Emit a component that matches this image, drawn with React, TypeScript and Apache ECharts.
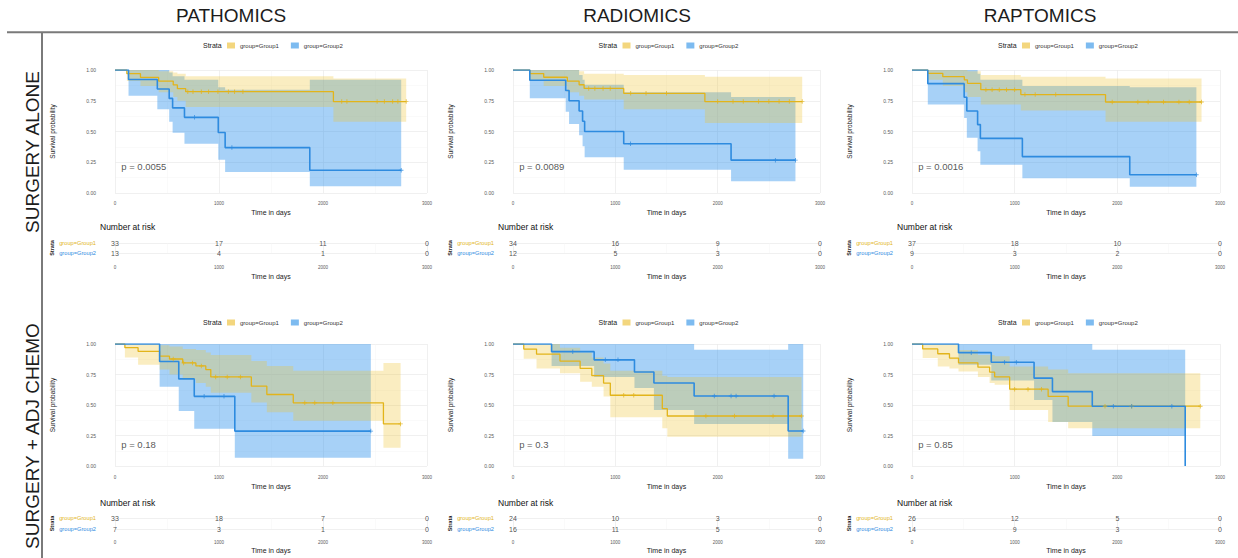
import React, { useEffect, useRef } from 'react';
import * as echarts from 'echarts';

const COLUMN_TITLES = ['PATHOMICS', 'RADIOMICS', 'RAPTOMICS'];
const ROW_TITLES = ['SURGERY ALONE', 'SURGERY + ADJ CHEMO'];
const STRATA = ['group=Group1', 'group=Group2'];
const TIME_TICKS = [0, 1000, 2000, 3000];
const P_VALUES = ['p = 0.0055', 'p = 0.0089', 'p = 0.0016', 'p = 0.18', 'p = 0.3', 'p = 0.85'];

// Numbers at risk at TIME_TICKS: [Group1, Group2]
const RISK_PATH_ALONE = [[33, 17, 11, 0], [13, 4, 1, 0]];
const RISK_RADIO_ALONE = [[34, 16, 9, 0], [12, 5, 3, 0]];
const RISK_RAPT_ALONE = [[37, 18, 10, 0], [9, 3, 2, 0]];
const RISK_PATH_CHEMO = [[33, 18, 7, 0], [7, 3, 1, 0]];
const RISK_RADIO_CHEMO = [[24, 10, 3, 0], [16, 11, 5, 0]];
const RISK_RAPT_CHEMO = [[26, 12, 5, 0], [14, 9, 3, 0]];

// Kaplan-Meier estimates: event times, survival after each time,
// 95% CI (lo/hi) after each time, last follow-up, censoring times.
type Curve = { t: number[]; s: number[]; lo: number[]; hi: number[]; end: number; censor: number[] };

const PATH_ALONE_G1: Curve = {
  t: [0, 114, 245, 420, 560, 600, 680, 2100],
  s: [1, 0.97, 0.94, 0.91, 0.879, 0.848, 0.824, 0.743],
  lo: [1, 0.91, 0.87, 0.82, 0.78, 0.75, 0.7, 0.58],
  hi: [1, 1, 1, 0.99, 0.98, 0.97, 0.95, 0.93],
  end: 2800,
  censor: [700, 750, 830, 900, 990, 1090, 1150, 1230, 2180, 2230, 2520, 2590, 2670, 2720, 2800],
};
const PATH_ALONE_G2: Curve = {
  t: [0, 130, 407, 521, 554, 668, 993, 1059, 1873],
  s: [1, 0.923, 0.846, 0.769, 0.692, 0.615, 0.492, 0.369, 0.185],
  lo: [1, 0.79, 0.68, 0.58, 0.49, 0.4, 0.27, 0.17, 0.055],
  hi: [1, 1, 1, 0.98, 0.95, 0.92, 0.86, 0.84, 0.92],
  end: 2752,
  censor: [765, 1124, 2752],
};
const RADIO_ALONE_G1: Curve = {
  t: [0, 164, 300, 531, 646, 695, 1082, 1875],
  s: [1, 0.971, 0.941, 0.91, 0.88, 0.85, 0.81, 0.743],
  lo: [1, 0.91, 0.87, 0.82, 0.79, 0.76, 0.68, 0.57],
  hi: [1, 1, 1, 1, 0.99, 0.97, 0.96, 0.945],
  end: 2826,
  censor: [740, 800, 880, 950, 1150, 1300, 1500, 2000, 2150, 2250, 2400, 2500, 2600, 2700, 2826],
};
const RADIO_ALONE_G2: Curve = {
  t: [0, 164, 515, 548, 646, 680, 700, 1082, 2131],
  s: [1, 0.917, 0.833, 0.75, 0.667, 0.583, 0.5, 0.4, 0.267],
  lo: [1, 0.77, 0.66, 0.56, 0.47, 0.38, 0.29, 0.19, 0.095],
  hi: [1, 1, 1, 1, 0.96, 0.92, 0.88, 0.82, 0.78],
  end: 2760,
  censor: [1148, 2564, 2760],
};
const RAPT_ALONE_G1: Curve = {
  t: [0, 154, 300, 510, 540, 670, 1060, 1885],
  s: [1, 0.973, 0.946, 0.919, 0.892, 0.84, 0.8, 0.74],
  lo: [1, 0.92, 0.87, 0.82, 0.78, 0.72, 0.67, 0.58],
  hi: [1, 1, 1, 1, 0.99, 0.96, 0.945, 0.93],
  end: 2820,
  censor: [720, 780, 850, 920, 1000, 1100, 1200, 1400, 1950, 2200, 2300, 2450, 2600, 2700, 2820],
};
const RAPT_ALONE_G2: Curve = {
  t: [0, 154, 508, 534, 639, 666, 1075, 2121],
  s: [1, 0.889, 0.778, 0.667, 0.556, 0.444, 0.296, 0.148],
  lo: [1, 0.72, 0.61, 0.45, 0.34, 0.23, 0.12, 0.05],
  hi: [1, 1, 1, 1, 0.97, 0.92, 0.87, 0.86],
  end: 2770,
  censor: [2770],
};
const PATH_CHEMO_G1: Curve = {
  t: [0, 95, 222, 429, 524, 651, 778, 873, 921, 1311, 1460, 1714, 2581],
  s: [1, 0.97, 0.94, 0.9, 0.877, 0.845, 0.82, 0.79, 0.73, 0.654, 0.586, 0.518, 0.345],
  lo: [1, 0.89, 0.83, 0.79, 0.75, 0.71, 0.68, 0.65, 0.6, 0.52, 0.44, 0.37, 0.15],
  hi: [1, 1, 1, 0.99, 0.98, 0.96, 0.95, 0.93, 0.91, 0.86, 0.82, 0.78, 0.845],
  end: 2746,
  censor: [560, 660, 745, 830, 968, 1079, 1206, 1825, 1921, 2095, 2746],
};
const PATH_CHEMO_G2: Curve = {
  t: [0, 429, 613, 762, 1152],
  s: [1, 0.857, 0.714, 0.571, 0.286],
  lo: [1, 0.65, 0.45, 0.305, 0.068],
  hi: [1, 1, 1, 1, 1],
  end: 2460,
  censor: [857, 1048, 2460],
};
const RADIO_CHEMO_G1: Curve = {
  t: [0, 105, 230, 459, 656, 770, 885, 951, 1459, 1508],
  s: [1, 0.958, 0.917, 0.86, 0.8, 0.74, 0.68, 0.58, 0.47, 0.41],
  lo: [1, 0.88, 0.8, 0.76, 0.69, 0.65, 0.57, 0.4, 0.31, 0.24],
  hi: [1, 1, 1, 0.97, 0.93, 0.89, 0.84, 0.78, 0.74, 0.73],
  end: 2820,
  censor: [1082, 1180, 1885, 2164, 2541, 2820],
};
const RADIO_CHEMO_G2: Curve = {
  t: [0, 377, 793, 1187, 1377, 1770, 2689],
  s: [1, 0.9375, 0.87, 0.77, 0.68, 0.574, 0.287],
  lo: [1, 0.82, 0.73, 0.64, 0.46, 0.345, 0.06],
  hi: [1, 1, 1, 1, 1, 0.953, 1],
  end: 2836,
  censor: [584, 902, 1026, 1967, 2131, 2180, 2551, 2836],
};
const RAPT_CHEMO_G1: Curve = {
  t: [0, 104, 251, 365, 453, 642, 756, 805, 951, 1326, 1521],
  s: [1, 0.96, 0.92, 0.885, 0.846, 0.81, 0.77, 0.73, 0.63, 0.57, 0.49],
  lo: [1, 0.885, 0.816, 0.8, 0.775, 0.73, 0.68, 0.665, 0.46, 0.36, 0.31],
  hi: [1, 1, 1, 1, 0.95, 0.91, 0.91, 0.9, 0.816, 0.79, 0.76],
  end: 2808,
  censor: [1000, 1130, 1261, 1880, 2140, 2808],
};
const RAPT_CHEMO_G2: Curve = {
  t: [0, 453, 772, 1189, 1368, 1756, 2661],
  s: [1, 0.929, 0.85, 0.72, 0.61, 0.49, 0],
  lo: [1, 0.83, 0.7, 0.54, 0.36, 0.245, 0],
  hi: [1, 1, 1, 1, 1, 0.953, 0],
  end: 2661,
  censor: [577, 902, 1016, 1961, 2140, 2531],
};

// Panels in row-major order
const PANEL_CURVES = [
  [PATH_ALONE_G1, PATH_ALONE_G2],
  [RADIO_ALONE_G1, RADIO_ALONE_G2],
  [RAPT_ALONE_G1, RAPT_ALONE_G2],
  [PATH_CHEMO_G1, PATH_CHEMO_G2],
  [RADIO_CHEMO_G1, RADIO_CHEMO_G2],
  [RAPT_CHEMO_G1, RAPT_CHEMO_G2],
];
const PANEL_RISK = [RISK_PATH_ALONE, RISK_RADIO_ALONE, RISK_RAPT_ALONE, RISK_PATH_CHEMO, RISK_RADIO_CHEMO, RISK_RAPT_CHEMO];

// Layout
const FONT = '"Liberation Sans", Arial, Helvetica, sans-serif';
const COL_LEFT = [115, 513, 912];
const COL_WIDTH = [312, 307, 308];
const HEADER_X = [231, 637, 1040];
const ROW_LABEL_Y = [152, 436];
const ROW_GEOM = [
  { plotTop: 70, plotH: 123, legendMid: 46, riskTop: 243, riskH: 10, riskTitleMid: 227, labelMargin: 7.5, nameGap: 16, riskLabelMargin: 11.5, riskNameGap: 20, pY: 0.214 },
  { plotTop: 344, plotH: 122, legendMid: 323, riskTop: 518, riskH: 11, riskTitleMid: 503, labelMargin: 8.5, nameGap: 17, riskLabelMargin: 10.5, riskNameGap: 17.5, pY: 0.18 },
];
const P_TIME = 60;

const LINE_COLORS = ['#E2B41A', '#2E8BDF'];
const BAND_COLORS = ['rgba(238,196,50,0.3)', 'rgba(46,145,235,0.42)'];
const KEY_COLORS = ['#F3D67E', '#7DBBF0'];
const GRID_MAJOR = '#e9e9e9';
const GRID_MINOR = '#f4f4f4';
const TICK_TEXT = '#5a5a5a';
const PLUS = 'path://M4,0h2v4h4v2h-4v4h-2v-4h-4v-2h4z';

function stepPoints(c: Curve) {
  const pts = c.t.map((t, i) => [t, c.s[i]]);
  if (c.end > c.t[c.t.length - 1]) pts.push([c.end, c.s[c.s.length - 1]]);
  return pts;
}

function bandSegments(c: Curve) {
  const segs: number[][] = [];
  for (let i = 1; i < c.t.length; i++) {
    const stop = i < c.t.length - 1 ? c.t[i + 1] : c.end;
    if (stop > c.t[i]) segs.push([c.t[i], stop, c.lo[i], c.hi[i]]);
  }
  return segs;
}

function survivalAt(c: Curve, time: number) {
  let v = 1;
  for (let i = 0; i < c.t.length; i++) if (c.t[i] <= time) v = c.s[i];
  return v;
}

// One polygon per confidence band, traced along the upper then lower step edges
function bandRenderer(fill: string) {
  return (params: any, api: any) => {
    if (params.dataIndexInside !== 0) return null;
    const n = params.dataInsideLength;
    const upper: number[][] = [];
    const lower: number[][] = [];
    for (let i = 0; i < n; i++) {
      const a = api.value(0, i), b = api.value(1, i), lo = api.value(2, i), hi = api.value(3, i);
      upper.push(api.coord([a, hi]), api.coord([b, hi]));
      lower.push(api.coord([a, lo]), api.coord([b, lo]));
    }
    return {
      type: 'polygon',
      shape: { points: upper.concat(lower.reverse()) },
      style: { fill, stroke: null },
      silent: true,
    };
  };
}

function buildOption() {
  const grid: any[] = [];
  const xAxis: any[] = [];
  const yAxis: any[] = [];
  const series: any[] = [];
  const legend: any[] = [];
  const title: any[] = [];

  PANEL_CURVES.forEach((curves, p) => {
    const row = Math.floor(p / 3);
    const col = p % 3;
    const R = ROW_GEOM[row];
    const L = COL_LEFT[col];
    const W = COL_WIDTH[col];
    const cx = L + W / 2;
    const gi = p * 2;
    const ri = p * 2 + 1;

    grid.push({ left: L, top: R.plotTop, width: W, height: R.plotH });
    grid.push({ left: L, top: R.riskTop, width: W, height: R.riskH });

    const timeAxis = (gridIndex: number, margin: number, gap: number) => ({
      gridIndex,
      type: 'value',
      min: 0,
      max: 3000,
      interval: 1000,
      name: 'Time in days',
      nameLocation: 'middle',
      nameGap: gap,
      nameTextStyle: { fontSize: 7, color: '#222', fontFamily: FONT },
      axisLine: { show: false },
      axisTick: { show: false },
      axisLabel: { fontSize: 4.5, color: TICK_TEXT, margin, fontFamily: FONT, formatter: (v: number) => String(v) },
      splitLine: { show: true, lineStyle: { color: GRID_MAJOR, width: 0.7 } },
      minorTick: { show: false, splitNumber: 2 },
      minorSplitLine: { show: true, lineStyle: { color: GRID_MINOR, width: 0.5 } },
    });

    xAxis.push(timeAxis(gi, R.labelMargin, R.nameGap));
    xAxis.push(timeAxis(ri, R.riskLabelMargin, R.riskNameGap));

    yAxis.push({
      gridIndex: gi,
      type: 'value',
      min: 0,
      max: 1,
      interval: 0.25,
      name: 'Survival probability',
      nameLocation: 'middle',
      nameRotate: 90,
      nameGap: 59,
      nameTextStyle: { fontSize: 6.5, color: '#222', fontFamily: FONT },
      axisLine: { show: false },
      axisTick: { show: false },
      axisLabel: { fontSize: 5, color: TICK_TEXT, margin: 19, fontFamily: FONT, formatter: (v: number) => v.toFixed(2) },
      splitLine: { show: true, lineStyle: { color: GRID_MAJOR, width: 0.7 } },
      minorTick: { show: false, splitNumber: 2 },
      minorSplitLine: { show: true, lineStyle: { color: GRID_MINOR, width: 0.5 } },
    });
    yAxis.push({
      gridIndex: ri,
      type: 'category',
      data: STRATA,
      inverse: true,
      boundaryGap: false,
      name: 'Strata',
      nameLocation: 'middle',
      nameRotate: 90,
      nameGap: 60,
      nameTextStyle: { fontSize: 5.5, color: '#222', fontWeight: 'bold', fontFamily: FONT },
      axisLine: { show: false },
      axisTick: { show: false },
      axisLabel: {
        margin: 19,
        interval: 0,
        hideOverlap: false,
        formatter: (v: string) => (v === STRATA[0] ? `{a|${v}}` : `{b|${v}}`),
        rich: {
          a: { fontSize: 5.7, color: LINE_COLORS[0], fontFamily: FONT },
          b: { fontSize: 5.7, color: LINE_COLORS[1], fontFamily: FONT },
        },
      },
      splitLine: { show: true, interval: 0, lineStyle: { color: GRID_MAJOR, width: 0.7 } },
    });

    // confidence bands: Group2 underneath, Group1 on top
    [1, 0].forEach((g) => {
      series.push({
        type: 'custom',
        xAxisIndex: gi,
        yAxisIndex: gi,
        data: bandSegments(curves[g]),
        encode: { x: [0, 1], y: [2, 3] },
        renderItem: bandRenderer(BAND_COLORS[g]),
        silent: true,
        z: 1,
      });
    });

    curves.forEach((c, g) => {
      series.push({
        type: 'line',
        name: STRATA[g],
        xAxisIndex: gi,
        yAxisIndex: gi,
        step: 'end',
        data: stepPoints(c),
        showSymbol: false,
        symbol: 'none',
        lineStyle: { color: LINE_COLORS[g], width: g === 0 ? 1.3 : 1.6 },
        itemStyle: { color: LINE_COLORS[g] },
        silent: true,
        z: 3,
      });
      series.push({
        type: 'scatter',
        xAxisIndex: gi,
        yAxisIndex: gi,
        data: c.censor.map((t) => [t, survivalAt(c, t)]),
        symbol: PLUS,
        symbolSize: 4.5,
        itemStyle: { color: LINE_COLORS[g] },
        silent: true,
        z: 4,
      });
      series.push({
        type: 'scatter',
        xAxisIndex: ri,
        yAxisIndex: ri,
        data: TIME_TICKS.map((t, k) => [t, STRATA[g], PANEL_RISK[p][g][k]]),
        symbolSize: 0,
        label: {
          show: true,
          position: 'inside',
          formatter: (q: any) => String(q.value[2]),
          fontSize: 7,
          color: '#222',
          fontFamily: FONT,
        },
        silent: true,
        z: 4,
      });
    });

    series.push({
      type: 'scatter',
      xAxisIndex: gi,
      yAxisIndex: gi,
      data: [[P_TIME, R.pY]],
      symbolSize: 0,
      label: {
        show: true,
        position: 'right',
        distance: 0,
        formatter: P_VALUES[p],
        fontSize: 9.5,
        color: '#2a2a2a',
        fontFamily: FONT,
      },
      silent: true,
      z: 5,
    });

    legend.push({
      left: cx - 44,
      top: R.legendMid - 3.5,
      orient: 'horizontal',
      padding: 0,
      itemWidth: 8,
      itemHeight: 6,
      itemGap: 12,
      selectedMode: false,
      textStyle: { fontSize: 6, color: '#333', fontFamily: FONT },
      data: STRATA.map((name, g) => ({ name, icon: 'rect', itemStyle: { color: KEY_COLORS[g] } })),
    });

    title.push({
      text: 'Strata',
      left: cx - 68,
      top: R.legendMid - 4,
      padding: 0,
      textStyle: { fontSize: 7, fontWeight: 'normal', color: '#222', fontFamily: FONT },
    });
    title.push({
      text: 'Number at risk',
      left: L - 15,
      top: R.riskTitleMid - 5,
      padding: 0,
      textStyle: { fontSize: 8.5, fontWeight: 'normal', color: '#111', fontFamily: FONT },
    });
  });

  const graphic: any[] = [
    { type: 'line', shape: { x1: 7, y1: 32.3, x2: 1238, y2: 32.3 }, style: { stroke: '#7a7a7a', lineWidth: 2 } },
    { type: 'line', shape: { x1: 42, y1: 32, x2: 42, y2: 558 }, style: { stroke: '#7a7a7a', lineWidth: 2 } },
    ...COLUMN_TITLES.map((text, i) => ({
      type: 'text',
      x: HEADER_X[i],
      y: 15,
      style: { text, fontSize: 19, fontFamily: FONT, fill: '#1c1c1c', align: 'center', verticalAlign: 'middle' },
    })),
    ...ROW_TITLES.map((text, i) => ({
      type: 'text',
      x: 32,
      y: ROW_LABEL_Y[i],
      rotation: Math.PI / 2,
      style: { text, fontSize: 19, fontFamily: FONT, fill: '#1c1c1c', align: 'center', verticalAlign: 'middle' },
    })),
  ];

  return {
    animation: false,
    backgroundColor: '#ffffff',
    textStyle: { fontFamily: FONT },
    title,
    legend,
    grid,
    xAxis,
    yAxis,
    series,
    graphic,
  };
}

export default function App() {
  const ref = useRef<HTMLDivElement>(null);
  useEffect(() => {
    if (!ref.current) return;
    const chart = echarts.init(ref.current, null, { renderer: 'svg' });
    chart.setOption(buildOption() as any);
    return () => chart.dispose();
  }, []);
  return (
    <div
      ref={ref}
      style={{ position: 'fixed', left: 0, top: 0, width: 1238, height: 558, background: '#fff' }}
    />
  );
}
